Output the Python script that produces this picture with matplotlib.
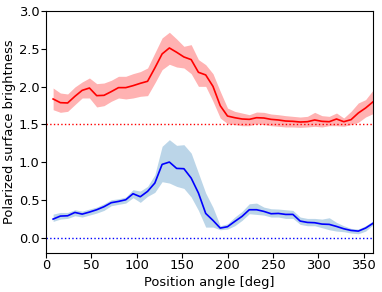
import numpy as np
import matplotlib
matplotlib.use("Agg")
import matplotlib.pyplot as plt

angle = np.arange(8, 361, 8)

red_mid = [1.837, 1.788, 1.784, 1.872, 1.951, 1.982, 1.881, 1.885, 1.934, 1.987,
           1.987, 2.013, 2.044, 2.071, 2.247, 2.433, 2.512, 2.455, 2.393, 2.358,
           2.190, 2.155, 2.004, 1.748, 1.611, 1.589, 1.572, 1.567, 1.589, 1.585,
           1.567, 1.559, 1.545, 1.541, 1.532, 1.536, 1.559, 1.541, 1.536, 1.572,
           1.536, 1.563, 1.651, 1.717, 1.797]
red_up = [1.982, 1.916, 1.903, 1.996, 2.062, 2.115, 2.040, 2.048, 2.084, 2.137,
          2.137, 2.172, 2.199, 2.247, 2.446, 2.645, 2.720, 2.631, 2.534, 2.556,
          2.358, 2.291, 2.172, 1.938, 1.717, 1.673, 1.651, 1.629, 1.664, 1.660,
          1.638, 1.629, 1.616, 1.607, 1.598, 1.607, 1.660, 1.616, 1.607, 1.651,
          1.585, 1.673, 1.784, 1.828, 1.951]
red_lo = [1.695, 1.660, 1.673, 1.762, 1.850, 1.850, 1.731, 1.748, 1.806, 1.850,
          1.837, 1.850, 1.872, 1.881, 2.048, 2.225, 2.296, 2.260, 2.247, 2.172,
          2.004, 2.004, 1.806, 1.585, 1.510, 1.497, 1.483, 1.483, 1.510, 1.497,
          1.483, 1.475, 1.466, 1.466, 1.461, 1.466, 1.475, 1.466, 1.483, 1.483,
          1.475, 1.497, 1.528, 1.598, 1.642]

blue_mid = [0.247, 0.287, 0.291, 0.335, 0.313, 0.340, 0.371, 0.411, 0.464, 0.481,
            0.503, 0.583, 0.543, 0.614, 0.724, 0.971, 1.002, 0.918, 0.914, 0.790,
            0.592, 0.322, 0.230, 0.128, 0.146, 0.216, 0.283, 0.371, 0.371, 0.349,
            0.318, 0.322, 0.309, 0.309, 0.221, 0.203, 0.199, 0.181, 0.177, 0.150,
            0.119, 0.097, 0.088, 0.128, 0.190]
blue_up = [0.313, 0.335, 0.335, 0.371, 0.353, 0.380, 0.406, 0.450, 0.503, 0.516,
           0.539, 0.636, 0.618, 0.680, 0.834, 1.210, 1.298, 1.223, 1.232, 1.121,
           0.857, 0.592, 0.402, 0.159, 0.185, 0.274, 0.349, 0.450, 0.459, 0.406,
           0.384, 0.380, 0.371, 0.362, 0.274, 0.256, 0.256, 0.247, 0.265, 0.203,
           0.159, 0.124, 0.115, 0.159, 0.221]
blue_lo = [0.216, 0.247, 0.256, 0.291, 0.274, 0.300, 0.327, 0.362, 0.424, 0.442,
           0.459, 0.530, 0.468, 0.548, 0.601, 0.742, 0.724, 0.680, 0.653, 0.539,
           0.362, 0.141, 0.141, 0.106, 0.115, 0.159, 0.230, 0.318, 0.309, 0.300,
           0.274, 0.274, 0.256, 0.256, 0.177, 0.159, 0.159, 0.133, 0.106, 0.088,
           0.080, 0.062, 0.053, 0.088, 0.168]

red_level = 1.5
blue_level = 0.0

fig = plt.figure(figsize=(3.82, 2.92), dpi=100)
ax = fig.add_axes([0.120, 0.134, 0.856, 0.828])

ax.fill_between(angle, red_lo, red_up, color="red", alpha=0.3, linewidth=0)
ax.plot(angle, red_mid, color="red", lw=1.2)
ax.axhline(red_level, color="red", ls=":", lw=1)

ax.fill_between(angle, blue_lo, blue_up, color="C0", alpha=0.3, linewidth=0)
ax.plot(angle, blue_mid, color="blue", lw=1.2)
ax.axhline(blue_level, color="blue", ls=":", lw=1)

ax.set_xlim(0, 360)
ax.set_ylim(-0.2, 3.0)
ax.set_xticks(np.arange(0, 351, 50))
ax.set_yticks(np.arange(0, 3.01, 0.5))
ax.tick_params(labelsize=9.4, pad=1.2)
ax.set_xlabel("Position angle [deg]", fontsize=9.4, labelpad=2.5)
ax.set_ylabel("Polarized surface brightness", fontsize=9.4, labelpad=1.5)

fig.savefig("out.png", dpi=100)
